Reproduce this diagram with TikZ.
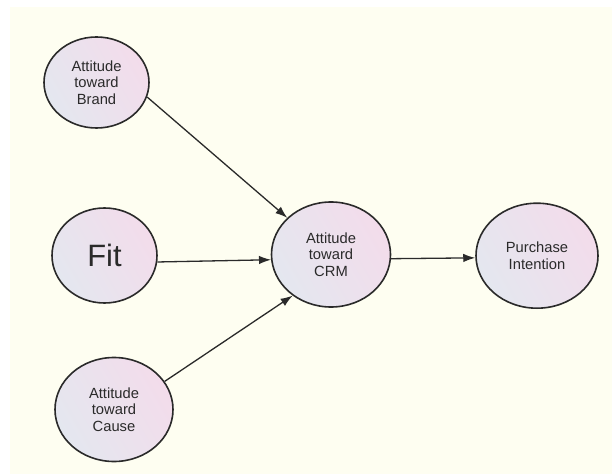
\documentclass[tikz,border=0pt]{standalone}
\usepackage{fontspec}
\setmainfont{Liberation Sans}
\usetikzlibrary{shapes.geometric,arrows.meta}
\definecolor{paper}{HTML}{FEFEF1}
\definecolor{ink}{HTML}{2A2A2A}
\definecolor{rim}{HTML}{2A2A2A}
\definecolor{tintA}{HTML}{E4E7EF}
\definecolor{tintB}{HTML}{F3DCEB}

\begin{document}
\begin{tikzpicture}[x=1bp,y=-1bp,
    construct/.style={ellipse,draw=rim,line width=1.6bp,inner sep=0pt,
        left color=tintA,right color=tintB,shading angle=120,
        align=center,text=ink,font=\fontsize{14.8}{16.4}\selectfont},
    link/.style={draw=ink,line width=1.3bp,-{Latex[length=12bp,width=8.5bp]}}]
            % canvas
            \useasboundingbox (0,0) rectangle (612,474);
            \fill[white] (0,0) rectangle (612,474);
            \fill[paper] (10,7) rectangle (612,474);

            \node (brand) at (96.5,82.5) [construct,minimum width=105bp,minimum height=91bp] {Attitude\\toward\\Brand};
            \node (fit) at (104.5,255.5) [construct,minimum width=105bp,minimum height=95bp,font=\fontsize{31}{33}\selectfont] {Fit};
            \node (cause) at (114,409.5) [construct,minimum width=118bp,minimum height=104bp] {Attitude\\toward\\Cause};
            \node (crm) at (331,254.5) [construct,minimum width=119bp,minimum height=105bp] {Attitude\\toward\\CRM};
            \node (purchase) at (537,255.7) [construct,minimum width=122bp,minimum height=105bp] {Purchase\\Intention};

            \draw[link] (brand.-16) -- (crm.140);
            \draw[link] (fit.-7) -- (crm.185);
            \draw[link] (cause.29) -- (crm.227);
            \draw[link] (crm.-4) -- (purchase.182);
        \end{tikzpicture}
\end{document}
